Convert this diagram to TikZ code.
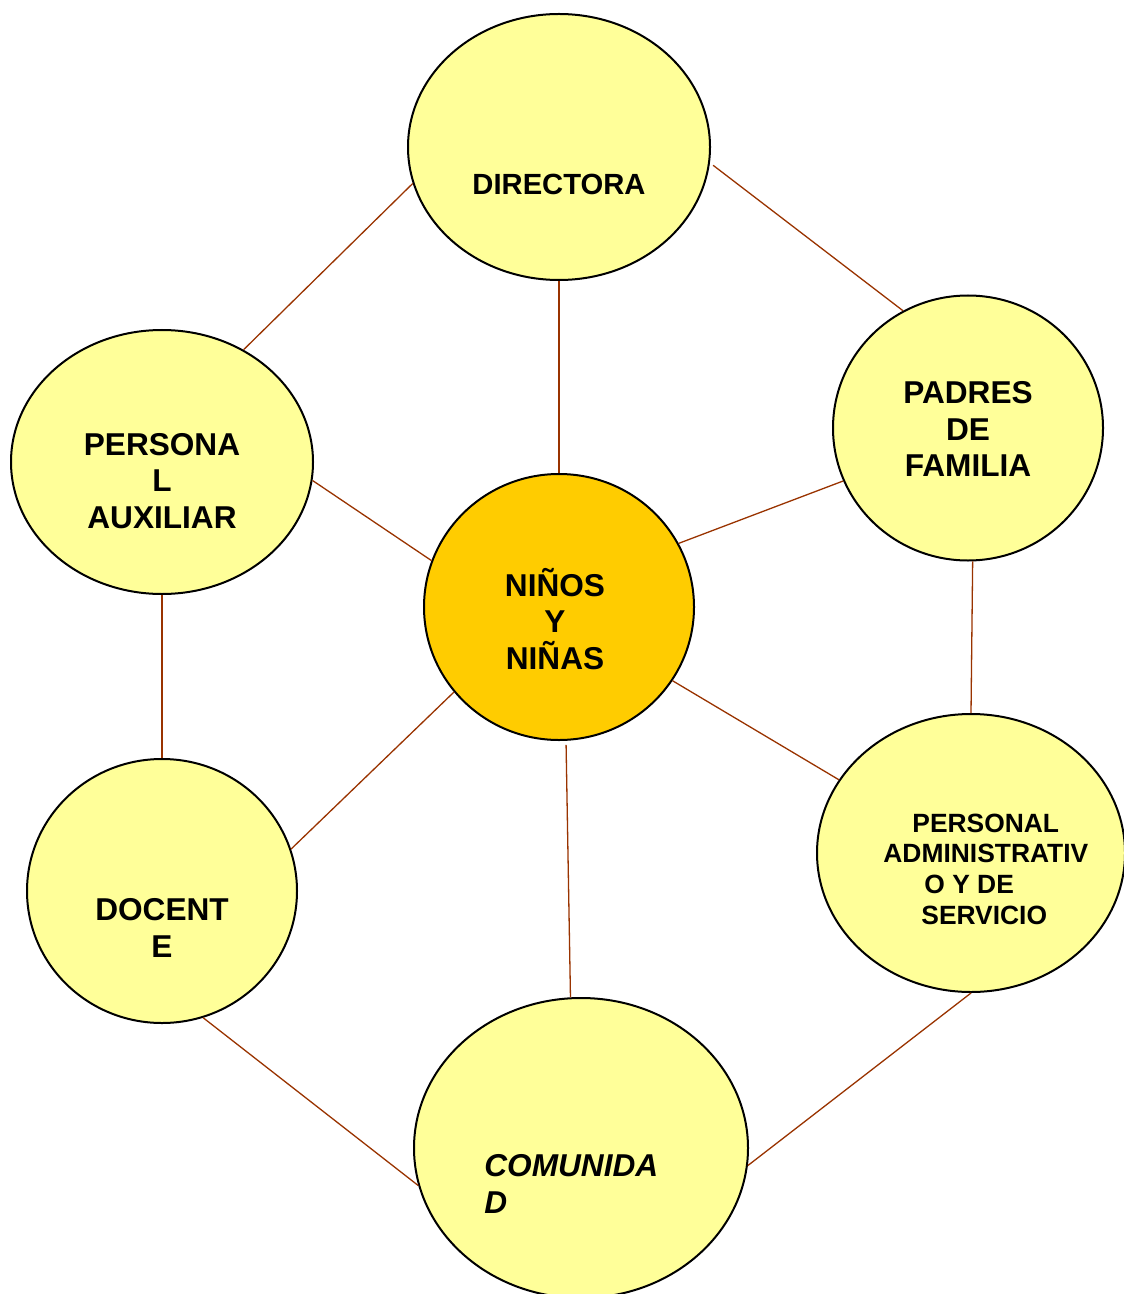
\documentclass[tikz,border=0pt]{standalone}
\usepackage{fontspec}
\setmainfont{Liberation Sans}
\usetikzlibrary{shapes.geometric}
\definecolor{circyellow}{RGB}{255,255,153}
\definecolor{centerorange}{RGB}{255,204,0}
\definecolor{linkbrown}{RGB}{153,51,0}
\begin{document}
\begin{tikzpicture}[x=0.5pt,y=-0.5pt,
  circ/.style={ellipse,draw=black,line width=1pt,fill=circyellow,inner sep=0pt},
  lab/.style={inner sep=0pt,align=center,font=\fontsize{15.8}{18.4}\selectfont\bfseries},
  link/.style={draw=linkbrown,line width=0.65pt}]
\useasboundingbox (0,0) rectangle (1123,1294);
\node [circ,minimum width=151pt,minimum height=133pt] (dir) at (559,147) {};
\node [circ,minimum width=135pt,minimum height=132.5pt] (pad) at (968,428) {};
\node [circ,minimum width=151pt,minimum height=132pt] (aux) at (162,462) {};
\node [circ,minimum width=135pt,minimum height=133pt,fill=centerorange] (nin) at (559,607) {};
\node [circ,minimum width=154pt,minimum height=139pt] (adm) at (971,853) {};
\node [circ,minimum width=135pt,minimum height=132pt] (doc) at (162,891) {};
\node [circ,minimum width=167pt,minimum height=150pt] (com) at (581,1148) {};
\draw [link] (dir.-166) -- (aux.54);
\draw [link,shorten <=2pt] (dir.-6) -- (pad.119);
\draw [link] (dir.south) -- (nin.north);
\draw [link] (aux.-7.5) -- (nin.160);
\draw [link] (pad.-157) -- (nin.28);
\draw [link] (pad.-88) -- (adm.north);
\draw [link] (aux.south) -- (doc.north);
\draw [link] (nin.-141) -- (doc.18.6);
\draw [link] (nin.-33) -- (adm.151);
\draw [link,shorten <=2pt] (nin.-87) -- (com.94);
\draw [link] (doc.-72) -- (com.-167);
\draw [link] (adm.south) -- (com.-6.5);
\node [lab,font=\fontsize{14.6}{18}\selectfont\bfseries] (tdir) at (559,184) {DIRECTORA};
\node [lab] (tpad) at (968,429) {PADRES\\DE\\FAMILIA};
\node [lab] (taux) at (162,481) {PERSONA\\L\\AUXILIAR};
\node [lab] (tnin) at (555,619) {NIÑOS\\Y\\NIÑAS};
\node [lab,align=left,anchor=west,font=\fontsize{13.2}{15.35}\selectfont\bfseries] (tadm) at (883,869)
  {\hspace*{14.5pt}PERSONAL\\ADMINISTRATIV\\\hspace*{20.5pt}O Y DE\\\hspace*{19pt}SERVICIO};
\node [lab] (tdoc) at (162,928) {DOCENT\\E};
\node [lab,align=left,anchor=west,font=\fontsize{15.8}{18.4}\selectfont\bfseries\itshape] (tcom) at (484,1184) {COMUNIDA\\D};
\end{tikzpicture}
\end{document}
